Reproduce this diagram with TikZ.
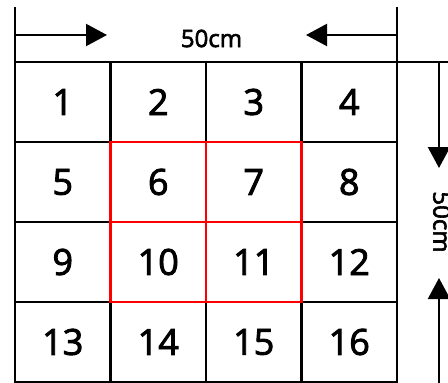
\documentclass[tikz,border=0pt]{standalone}
\usepackage{fontspec}
\setmainfont[FakeBold=2.5]{Open Sans}
\usetikzlibrary{arrows.meta}
\begin{document}
\begin{tikzpicture}[x=1pt,y=-1pt,line width=2.2pt,line cap=rect,
  cell/.style={draw,minimum width=95.5pt,minimum height=80pt,inner sep=0pt,outer sep=0pt,
    font=\fontsize{36}{36}\selectfont},
  dim/.style={-{Triangle[length=21pt,width=22pt]}},
  dimlabel/.style={font=\fontsize{24}{24}\selectfont,inner sep=0pt}]
 \useasboundingbox (0,0) rectangle (448,383);
 % 4x4 grid
 \foreach \n in {1,...,16}{
  \pgfmathtruncatemacro\col{mod(\n-1,4)}
  \pgfmathtruncatemacro\row{(\n-1)/4}
  \node[cell] (c\n) at ({62.75+95.5*\col},{102+80*\row}) {\n};
 }
 % red centre block
 \draw[red] (c6.north west) rectangle (c11.south east);
 \draw[red] (c6.south west) -- (c7.south east);
 \draw[red] (c6.north east) -- (c10.south east);
 % extension lines
 \coordinate (tl) at (15,8);
 \coordinate (tr) at (397,8);
 \coordinate (re) at (448,62);
 \draw (c1.north west) -- (tl);
 \draw (c4.north east) -- (tr);
 \draw (c4.north east) -- (re);
 % width
 \coordinate (wl) at (15,35);
 \coordinate (wr) at (397,35);
 \coordinate (wlt) at (107,35);
 \coordinate (wrt) at (306,35);
 \node[dimlabel] (wlab) at (211.5,38.5) {50cm};
 \draw[dim,line cap=butt] (wl) -- (wlt);
 \draw[dim,line cap=butt] (wr) -- (wrt);
 % height
 \coordinate (ht) at (439,62);
 \coordinate (hb) at (439,383);
 \coordinate (htt) at (439,168);
 \coordinate (hbt) at (439,278);
 \node[dimlabel,rotate=-90] (hlab) at (442,222) {50cm};
 \draw[dim,line cap=butt] (ht) -- (htt);
 \draw[dim,line cap=butt] (hb) -- (hbt);
\end{tikzpicture}
\end{document}
